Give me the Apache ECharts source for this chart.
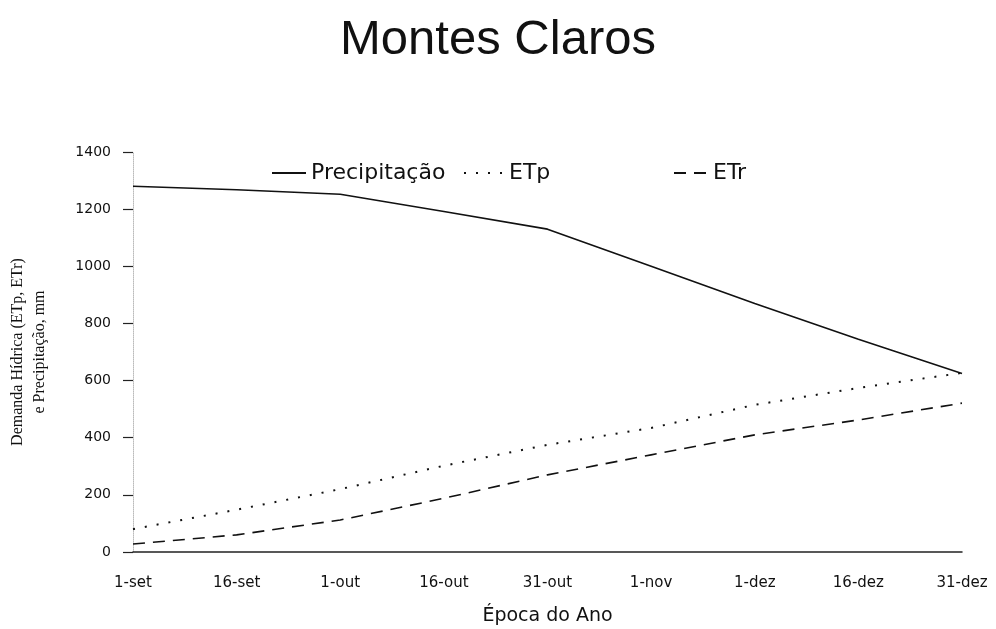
<!DOCTYPE html>
<html>
<head>
<meta charset="utf-8">
<script src="https://cdn.jsdelivr.net/npm/echarts@6/dist/echarts.min.js"></script>
<style>
  html, body { margin: 0; padding: 0; background: #fff; }
  #chart { width: 996px; height: 629px; }
</style>
</head>
<body>
<div id="chart"></div>
<script>
const categories = ['1-set', '16-set', '1-out', '16-out', '31-out', '1-nov', '1-dez', '16-dez', '31-dez']
const precipitacao = [1280, 1268, 1252, 1192, 1130, 1000, 870, 745, 625]
const etp = [80, 148, 220, 302, 375, 434, 515, 574, 627]
const etr = [28, 60, 112, 188, 270, 340, 410, 462, 521]
const yTicks = [0, 200, 400, 600, 800, 1000, 1200, 1400]

const chart = echarts.init(document.getElementById('chart'))

const lineSeries = (name, data, type, width) => ({
  name,
  type: 'line',
  data,
  symbol: 'none',
  smooth: false,
  itemStyle: { color: '#111' },
  lineStyle: { color: '#111', width, type }
})

const legendText = { fontFamily: 'DejaVu Sans', fontSize: 22, color: '#111' }
const legendAt = (name, left, width) => ({
  data: [name],
  left,
  top: 157,
  itemWidth: width,
  itemHeight: 12,
  itemGap: 6,
  itemStyle: { opacity: 0 },
  textStyle: legendText
})

chart.setOption({
  animation: false,
  title: {
    text: 'Montes Claros',
    left: 'center',
    top: 11,
    textStyle: {
      fontFamily: 'Liberation Sans',
      fontSize: 49,
      fontWeight: 'normal',
      color: '#111'
    }
  },
  legend: [
    legendAt('Precipitação', 266, 34),
    legendAt('ETp', 458, 40),
    legendAt('ETr', 668, 34)
  ],
  grid: { left: 133, right: 34, top: 152, bottom: 77, outerBoundsMode: 'none' },
  xAxis: {
    type: 'category',
    data: categories,
    boundaryGap: false,
    name: 'Época do Ano',
    nameLocation: 'middle',
    nameGap: 55,
    nameTextStyle: { fontFamily: 'DejaVu Sans', fontSize: 19, color: '#111' },
    axisLine: { lineStyle: { color: '#222', width: 1.5 } },
    axisTick: { show: false },
    axisLabel: { fontFamily: 'DejaVu Sans', fontSize: 15, color: '#111', margin: 24 }
  },
  yAxis: {
    type: 'value',
    min: 0,
    max: 1400,
    interval: 200,
    name: 'Demanda Hídrica (ETp, ETr)\ne Precipitação, mm',
    nameLocation: 'middle',
    nameGap: 82,
    nameTextStyle: { fontFamily: 'Liberation Serif', fontSize: 16, color: '#111', lineHeight: 22 },
    axisLine: { show: true, lineStyle: { color: '#bbb', width: 1, type: 'dotted' } },
    axisTick: { show: true, inside: false, length: 10, lineStyle: { color: '#222', width: 1.2 } },
    splitLine: { show: false },
    axisLabel: {
      fontFamily: 'DejaVu Sans',
      fontSize: 14,
      color: '#111',
      margin: 22,
      formatter: v => (yTicks.includes(v) ? String(v) : '')
    }
  },
  series: [
    lineSeries('Precipitação', precipitacao, 'solid', 1.6),
    lineSeries('ETp', etp, [2, 10], 2),
    lineSeries('ETr', etr, [12, 8], 1.6)
  ]
})
</script>
</body>
</html>
